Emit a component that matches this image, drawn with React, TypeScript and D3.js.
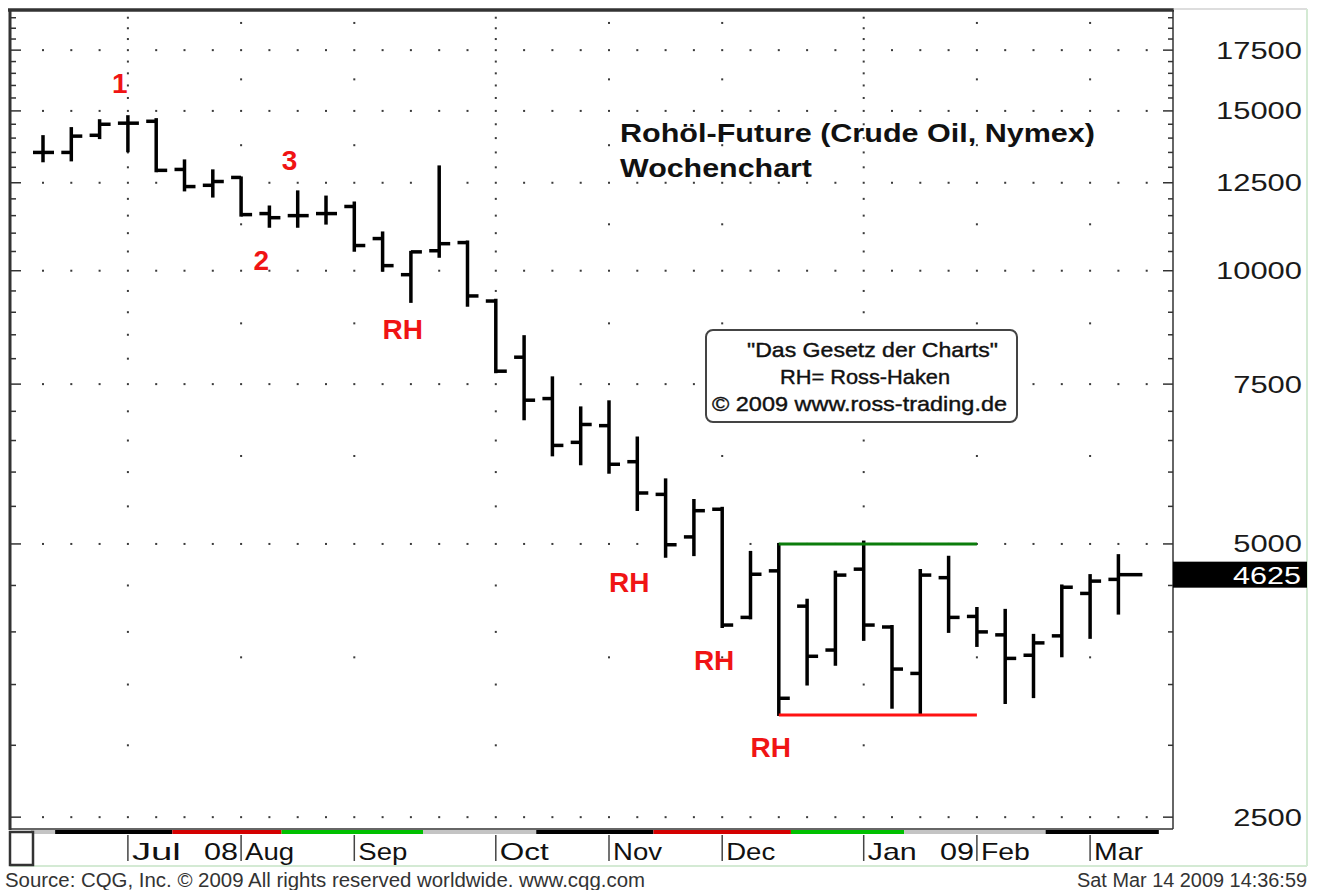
import React, { useRef, useEffect } from 'react';
import * as d3 from 'd3';

// Weekly OHLC, crude oil future (Nymex), price in cents
const weeks = [
  '2008-06-16', '2008-06-23', '2008-06-30', '2008-07-07', '2008-07-14', '2008-07-21', '2008-07-28',
  '2008-08-04', '2008-08-11', '2008-08-18', '2008-08-25', '2008-09-01', '2008-09-08', '2008-09-15',
  '2008-09-22', '2008-09-29', '2008-10-06', '2008-10-13', '2008-10-20', '2008-10-27', '2008-11-03',
  '2008-11-10', '2008-11-17', '2008-11-24', '2008-12-01', '2008-12-08', '2008-12-15', '2008-12-22',
  '2008-12-29', '2009-01-05', '2009-01-12', '2009-01-19', '2009-01-26', '2009-02-02', '2009-02-09',
  '2009-02-16', '2009-02-23', '2009-03-02', '2009-03-09',
];
const opens = [
  13500, 13500, 14100, 14540, 14610, 12930, 12420, 12670, 11560, 11500, 11560, 11770, 10850, 9900,
  10520, 10740, 9260, 8030, 7230, 6470, 6750, 6160, 5670, 5090, 5460, 4150, 4670, 4270, 3820, 4690,
  4050, 3600, 4590, 4160, 3970, 3770, 3960, 4410, 4570,
];
const highs = [
  14070, 14360, 14650, 14800, 14690, 13230, 12900, 12670, 11770, 12230, 12070, 11890, 11020, 10490,
  13030, 10770, 9290, 8470, 7630, 7070, 7180, 6550, 5890, 5590, 5480, 4900, 5000, 4340, 4660, 5030,
  4060, 4680, 4840, 4250, 4230, 3970, 4500, 4620, 4860,
];
const lows = [
  13200, 13230, 14000, 13540, 12870, 12260, 12070, 11500, 11180, 11180, 11270, 10520, 10000, 9240,
  10360, 9150, 7730, 6860, 6260, 6120, 5990, 5450, 4840, 4860, 4050, 4140, 3240, 3500, 3680, 3920,
  3300, 3240, 4000, 3860, 3340, 3390, 3760, 3940, 4190,
];
const closes = [
  13500, 14070, 14500, 14540, 12900, 12380, 12540, 11530, 11440, 11500, 11560, 10660, 10130, 10490,
  10710, 9380, 7750, 7200, 6420, 6770, 6120, 5690, 4990, 5440, 4070, 4630, 3380, 3760, 4620, 4070,
  3640, 4620, 4150, 4000, 3740, 3890, 4480, 4550, 4625,
];
const lastPrice = 4625;

// Axis labels
const priceLabels = [17500, 15000, 12500, 10000, 7500, 5000, 2500];
const halfLevels = [18750, 16250, 13750, 11250, 8750, 6250, 3750];
const monthStarts = [
  '2008-07-07', '2008-08-04', '2008-09-01', '2008-10-06', '2008-11-03',
  '2008-12-01', '2009-01-05', '2009-02-02', '2009-03-02',
];
const monthLabels = ['Jul', 'Aug', 'Sep', 'Oct', 'Nov', 'Dec', 'Jan', 'Feb', 'Mar'];
const quarterStarts = ['2008-07-07', '2008-10-06', '2009-01-05'];
const yearLabels = ['08', '09'];
const yearLabelBefore = ['2008-08-04', '2009-02-02'];

// Contract strip under the plot
const contractBreaks = [
  '2008-06-13', '2008-06-19', '2008-07-18', '2008-08-14', '2008-09-18', '2008-10-16',
  '2008-11-14', '2008-12-18', '2009-01-15', '2009-02-19', '2009-03-19',
];
const contractColors = [
  '#c4c4c4', '#000000', '#d40000', '#00c000', '#c4c4c4',
  '#000000', '#d40000', '#00c000', '#c4c4c4', '#000000',
];

// Annotations (label, date, price at baseline)
const noteLabels = ['1', '3', '2', 'RH', 'RH', 'RH', 'RH'];
const noteDates = ['2008-07-05', '2008-08-16', '2008-08-09', '2008-09-13', '2008-11-08', '2008-11-29', '2008-12-13'];
const notePrices = [15700, 12910, 10020, 8410, 4427, 3632, 2913];

// Range lines
const rangeStart = '2008-12-15';
const rangeEnd = '2009-02-02';
const rangeHigh = 5000;
const rangeLow = 3240;

const FONT = '"Liberation Sans", Arial, sans-serif';

const App = () => {
  const chartRef = useRef(null);

  useEffect(() => {
    const parse = d3.utcParse('%Y-%m-%d');
    const root = d3.select(chartRef.current);
    root.selectAll('*').remove();

    const W = 1322;
    const H = 890;
    const plot = { left: 10, top: 10, right: 1173, bottom: 829 };

    const svg = root
      .append('svg')
      .attr('width', W)
      .attr('height', H)
      .style('position', 'absolute')
      .style('left', 0)
      .style('top', 0)
      .style('background', '#fff');

    // Scales
    const xScale = d3
      .scaleUtc()
      .domain([parse('2008-06-16'), parse('2009-03-09')])
      .range([43, 1118.4]);
    const yScale = d3.scaleLog().domain([2426, 19376]).range([plot.bottom, plot.top]);

    const bars = weeks.map((w, i) => ({
      date: parse(w),
      o: opens[i],
      h: highs[i],
      l: lows[i],
      c: closes[i],
    }));

    // Grid dots
    const dotWeeks = d3.utcMonday.range(parse('2008-06-16'), parse('2009-03-17'));
    const minorLevels = d3.range(2500, 19001, 500);
    const dots = svg.append('g').attr('fill', '#3a3a3a');
    priceLabels.forEach((p) => {
      dotWeeks.forEach((d) => {
        dots.append('rect').attr('x', xScale(d) - 1).attr('y', yScale(p) - 1).attr('width', 2).attr('height', 2);
      });
    });
    quarterStarts.forEach((q) => {
      minorLevels
        .filter((p) => p % 2500 !== 0)
        .forEach((p) => {
          dots.append('rect').attr('x', xScale(parse(q)) - 1).attr('y', yScale(p) - 1).attr('width', 2).attr('height', 2);
        });
    });
    monthStarts
      .filter((m) => !quarterStarts.includes(m))
      .forEach((m) => {
        halfLevels.forEach((p) => {
          dots.append('rect').attr('x', xScale(parse(m)) - 1).attr('y', yScale(p) - 1).attr('width', 2).attr('height', 2);
        });
      });

    // Border ticks
    const ticks = svg.append('g').attr('stroke', '#333').attr('stroke-width', 1.5);
    minorLevels.forEach((p) => {
      const len = p % 2500 === 0 ? 10 : 5;
      ticks.append('line').attr('x1', plot.left).attr('x2', plot.left + len + 1).attr('y1', yScale(p)).attr('y2', yScale(p));
      ticks.append('line').attr('x1', plot.right - len).attr('x2', plot.right).attr('y1', yScale(p)).attr('y2', yScale(p));
    });

    // Price bars
    const barG = svg.append('g').attr('stroke', '#000').attr('stroke-width', 3.5);
    bars.forEach((d, i) => {
      const x = xScale(d.date);
      const rightLen = i === bars.length - 1 ? 24 : 11;
      barG.append('line').attr('x1', x).attr('x2', x).attr('y1', yScale(d.h) - 1).attr('y2', yScale(d.l) + 1);
      barG.append('line').attr('x1', x - 10).attr('x2', x).attr('y1', yScale(d.o)).attr('y2', yScale(d.o));
      barG.append('line').attr('x1', x).attr('x2', x + rightLen).attr('y1', yScale(d.c)).attr('y2', yScale(d.c));
    });

    // Range lines
    svg
      .append('line')
      .attr('x1', xScale(parse(rangeStart)))
      .attr('x2', xScale(parse(rangeEnd)))
      .attr('y1', yScale(rangeHigh))
      .attr('y2', yScale(rangeHigh))
      .attr('stroke', '#0b7d0b')
      .attr('stroke-width', 3);
    svg
      .append('line')
      .attr('x1', xScale(parse(rangeStart)))
      .attr('x2', xScale(parse(rangeEnd)))
      .attr('y1', yScale(rangeLow))
      .attr('y2', yScale(rangeLow))
      .attr('stroke', '#ff1212')
      .attr('stroke-width', 3);

    // Annotations
    noteLabels.forEach((t, i) => {
      svg
        .append('text')
        .attr('x', xScale(parse(noteDates[i])))
        .attr('y', yScale(notePrices[i]))
        .attr('text-anchor', 'middle')
        .attr('font-family', FONT)
        .attr('font-weight', 'bold')
        .attr('font-size', 28)
        .attr('fill', '#f01414')
        .text(t);
    });

    // Title
    const title = [
      { t: 'Rohöl-Future (Crude Oil, Nymex)', y: 142, w: 475 },
      { t: 'Wochenchart', y: 177, w: 192 },
    ];
    title.forEach((d) => {
      svg
        .append('text')
        .attr('x', 620)
        .attr('y', d.y)
        .attr('font-family', FONT)
        .attr('font-weight', 'bold')
        .attr('font-size', 26)
        .attr('textLength', d.w)
        .attr('lengthAdjust', 'spacingAndGlyphs')
        .attr('fill', '#111')
        .text(d.t);
    });

    // Info box
    svg
      .append('rect')
      .attr('x', 706)
      .attr('y', 330)
      .attr('width', 311)
      .attr('height', 92)
      .attr('rx', 7)
      .attr('fill', '#fff')
      .attr('stroke', '#444')
      .attr('stroke-width', 2);
    const boxLines = [
      { t: '"Das Gesetz der Charts"', x: 747, y: 357, w: 251 },
      { t: 'RH= Ross-Haken', x: 780, y: 384, w: 170 },
      { t: '© 2009 www.ross-trading.de', x: 712, y: 411, w: 295 },
    ];
    boxLines.forEach((d) => {
      svg
        .append('text')
        .attr('x', d.x)
        .attr('y', d.y)
        .attr('font-family', FONT)
        .attr('font-size', 21)
        .attr('textLength', d.w)
        .attr('lengthAdjust', 'spacingAndGlyphs')
        .attr('fill', '#111')
        .attr('stroke', '#111')
        .attr('stroke-width', 0.4)
        .text(d.t);
    });

    // Frame
    const frame = svg.append('g').attr('stroke', '#333').attr('fill', 'none');
    frame.append('line').attr('x1', 8).attr('x2', plot.right + 1).attr('y1', plot.top).attr('y2', plot.top).attr('stroke-width', 3.5);
    frame.append('line').attr('x1', plot.left).attr('x2', plot.left).attr('y1', plot.top).attr('y2', plot.bottom + 1).attr('stroke-width', 3);
    frame.append('line').attr('x1', plot.right).attr('x2', plot.right).attr('y1', plot.top).attr('y2', plot.bottom).attr('stroke-width', 1.5);
    frame.append('line').attr('x1', plot.left).attr('x2', plot.right).attr('y1', plot.bottom).attr('y2', plot.bottom).attr('stroke-width', 1.5);

    // Right panel and outer light border
    svg.append('line').attr('x1', plot.right).attr('x2', 1307).attr('y1', 9).attr('y2', 9).attr('stroke', '#bbb').attr('stroke-width', 1);
    svg.append('line').attr('x1', 1307).attr('x2', 1307).attr('y1', 9).attr('y2', 866).attr('stroke', '#d4ead4').attr('stroke-width', 2);
    svg.append('line').attr('x1', 10).attr('x2', 1307).attr('y1', 866).attr('y2', 866).attr('stroke', '#d4ead4').attr('stroke-width', 2);

    // Y axis labels
    priceLabels.forEach((p) => {
      svg
        .append('text')
        .attr('x', 1302)
        .attr('y', yScale(p) + 8.5)
        .attr('text-anchor', 'end')
        .attr('font-family', FONT)
        .attr('font-size', 24)
        .attr('textLength', String(p).length * 17.2)
        .attr('lengthAdjust', 'spacingAndGlyphs')
        .attr('fill', '#1a1a1a')
        .text(p);
    });

    // Last price marker
    svg
      .append('rect')
      .attr('x', plot.right)
      .attr('y', yScale(lastPrice) - 13)
      .attr('width', 1307 - plot.right)
      .attr('height', 26)
      .attr('fill', '#000');
    svg
      .append('text')
      .attr('x', 1301)
      .attr('y', yScale(lastPrice) + 9)
      .attr('text-anchor', 'end')
      .attr('font-family', FONT)
      .attr('font-size', 24)
      .attr('textLength', 68)
      .attr('lengthAdjust', 'spacingAndGlyphs')
      .attr('fill', '#fff')
      .text(lastPrice);

    // Contract strip
    contractColors.forEach((c, i) => {
      const x0 = xScale(parse(contractBreaks[i]));
      const x1 = xScale(parse(contractBreaks[i + 1]));
      svg.append('rect').attr('x', x0).attr('y', 830).attr('width', x1 - x0).attr('height', 4).attr('fill', c);
    });

    // Bottom-left box
    svg
      .append('rect')
      .attr('x', 10)
      .attr('y', 832)
      .attr('width', 23)
      .attr('height', 33)
      .attr('fill', '#fff')
      .attr('stroke', '#333')
      .attr('stroke-width', 2.5);

    // X axis: month separators and labels
    monthStarts.forEach((m, i) => {
      const x = xScale(parse(m));
      svg.append('line').attr('x1', x).attr('x2', x).attr('y1', 835).attr('y2', 861).attr('stroke', '#444').attr('stroke-width', 1.5);
      svg
        .append('text')
        .attr('x', x + 4)
        .attr('y', 860)
        .attr('font-family', FONT)
        .attr('font-size', 24)
        .attr('textLength', 49)
        .attr('lengthAdjust', 'spacingAndGlyphs')
        .attr('fill', '#111')
        .text(monthLabels[i]);
    });
    yearLabels.forEach((t, i) => {
      svg
        .append('text')
        .attr('x', xScale(parse(yearLabelBefore[i])) - 3)
        .attr('y', 860)
        .attr('text-anchor', 'end')
        .attr('font-family', FONT)
        .attr('font-size', 24)
        .attr('textLength', 34)
        .attr('lengthAdjust', 'spacingAndGlyphs')
        .attr('fill', '#111')
        .text(t);
    });

    // Footer
    svg
      .append('text')
      .attr('x', 5)
      .attr('y', 887)
      .attr('font-family', FONT)
      .attr('font-size', 20)
      .attr('textLength', 640)
      .attr('lengthAdjust', 'spacingAndGlyphs')
      .attr('fill', '#333')
      .text('Source: CQG, Inc. © 2009 All rights reserved worldwide. www.cqg.com');
    svg
      .append('text')
      .attr('x', 1077)
      .attr('y', 887)
      .attr('font-family', FONT)
      .attr('font-size', 20)
      .attr('textLength', 230)
      .attr('lengthAdjust', 'spacingAndGlyphs')
      .attr('fill', '#333')
      .text('Sat Mar 14 2009 14:36:59');

    return () => {
      root.selectAll('*').remove();
    };
  }, []);

  return <div ref={chartRef} />;
};

export default App;
